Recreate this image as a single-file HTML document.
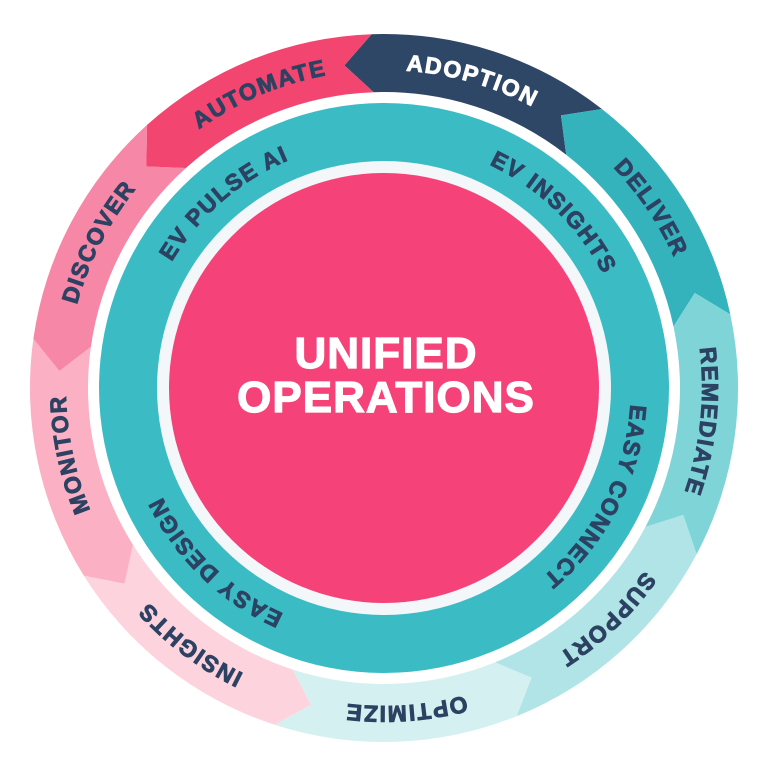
<!DOCTYPE html>
<html><head><meta charset="utf-8"><style>
html,body{margin:0;padding:0;background:#fff;width:768px;height:768px;overflow:hidden}
svg text{font-family:"Liberation Sans",sans-serif;font-weight:bold}
</style></head><body>
<svg id="s" width="768" height="768" viewBox="0 0 768 768" xmlns="http://www.w3.org/2000/svg">
<defs>
<path id="po" d="M384,70 A318,318 0 1 1 384,706 A318,318 0 1 1 384,70 A318,318 0 1 1 384,706 A318,318 0 1 1 384,70"/>
<path id="pi" d="M384,141 A247,247 0 1 1 384,635 A247,247 0 1 1 384,141 A247,247 0 1 1 384,635 A247,247 0 1 1 384,141"/>
</defs>
<g id="segs"></g>
<circle cx="384" cy="388" r="285" fill="#3bbcc4"/>
<circle cx="384" cy="388" r="227" fill="#f3f7fa"/>
<circle cx="384" cy="388" r="215" fill="#f5437a"/>
<g id="txt"></g>
<text x="386" y="368" text-anchor="middle" fill="#fff" stroke="#fff" stroke-width="1.2" font-size="44" letter-spacing="1">UNIFIED</text>
<text x="386" y="412" text-anchor="middle" fill="#fff" stroke="#fff" stroke-width="1.2" font-size="44" letter-spacing="1">OPERATIONS</text>
</svg>
<script>
var cx=384,cy=388,R1=354,R0=296,d=5;
function P(r,a){a=a*Math.PI/180;return (cx+r*Math.sin(a)).toFixed(1)+","+(cy-r*Math.cos(a)).toFixed(1);}
var cols=["#2f4766","#35b3bd","#7fd4d8","#b0e4e6","#d5f0f0","#fdd3de","#fbb0c4","#f787a6","#f2456f"];
var g=document.getElementById("segs"),h="";
for(var k=0;k<9;k++){
 var a0=-2+40*k,a1=a0+40,rm=(R0+R1)/2;
 var p="M"+P(R1,a0)+" A"+R1+","+R1+" 0 0 1 "+P(R1,a1)+" L"+P(rm,a1-d)+" L"+P(R0,a1)+" A"+R0+","+R0+" 0 0 0 "+P(R0,a0)+" L"+P(rm,a0-d)+" Z";
 h+='<path d="'+p+'" fill="'+cols[k]+'"/>';
}
g.innerHTML=h;
var Co=2*Math.PI*318,Ci=2*Math.PI*247;
var outer=[["ADOPTION",16,"#fff"],["DELIVER",56],["REMEDIATE",96],["SUPPORT",136],["OPTIMIZE",176],["INSIGHTS",217],["MONITOR",258],["DISCOVER",297],["AUTOMATE",337]];
var inner=[["EV INSIGHTS",44],["EASY CONNECT",117],["EASY DESIGN",224],["EV PULSE AI",319]];
var t="";
outer.forEach(function(o){var c=o[2]||"#2d4262";t+='<text font-size="23" letter-spacing="1.5" fill="'+c+'" stroke="'+c+'" stroke-width="0.9" text-anchor="middle"><textPath href="#po" startOffset="'+(o[1]/360*Co).toFixed(1)+'">'+o[0]+'</textPath></text>';});
inner.forEach(function(o){t+='<text font-size="23" letter-spacing="1.5" fill="#2d4262" stroke="#2d4262" stroke-width="0.9" text-anchor="middle"><textPath href="#pi" startOffset="'+(o[1]/360*Ci).toFixed(1)+'">'+o[0]+'</textPath></text>';});
document.getElementById("txt").innerHTML=t;
</script>
</body></html>
